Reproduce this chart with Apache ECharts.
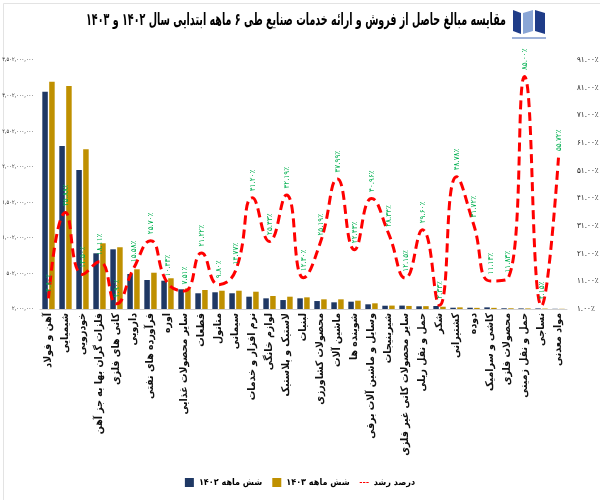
<!DOCTYPE html>
<html>
<head>
<meta charset="utf-8">
<script src="https://cdn.jsdelivr.net/npm/echarts@6/dist/echarts.min.js"></script>
<style>
html,body{margin:0;padding:0;background:#fff;}
#c{width:600px;height:500px;}
</style>
</head>
<body>
<div id="c"></div>
<script>
const categories = [
  'آهن و فولاد','شیمیایی','خودرویی','فلزات گران بها به جز آهن','کانی های فلزی','دارویی',
  'فرآورده های نفتی','اوره','سایر محصولات غذایی','قطعات','متانول','سیمانی',
  'نرم افزار و خدمات','لوازم خانگی','لاستیک و پلاستیک','لبنیات','محصولات کشاورزی','ماشین آلات',
  'شوینده ها','وسایل و ماشین آلات برقی','شیرینیجات','سایر محصولات کانی غیر فلزی','حمل و نقل ریلی','شکر',
  'کشتیرانی','دوده','کاشی و سرامیک','محصولات فلزی','حمل و نقل زمینی','نساجی','مواد معدنی'
];
const sales1402 = [
  3057e6,2294e6,1956e6,785e6,841e6,494e6,410e6,400e6,279e6,223e6,237e6,223e6,
  175e6,152e6,128e6,152e6,114e6,96e6,105e6,68e6,48e6,50e6,40e6,44e6,
  20e6,20e6,25e6,12e6,10e6,10e6,5e6
];
const sales1403 = [
  3198e6,3137e6,2247e6,926e6,870e6,560e6,512e6,434e6,293e6,269e6,259e6,259e6,
  245e6,185e6,175e6,166e6,138e6,138e6,119e6,82e6,50e6,45e6,42e6,34e6,
  25e6,18e6,18e6,12e6,10e6,8e6,5e6
];
const growth = [
  4.80,35.88,13.50,18.11,2.90,15.58,25.70,10.43,7.51,21.22,9.80,14.77,
  41.20,25.43,42.19,12.30,25.19,47.99,22.43,40.96,28.34,12.15,29.60,2.33,
  48.78,31.72,11.13,11.83,85.00,2.15,55.72
];
const seriesNames = ['شش ماهه ۱۴۰۲','شش ماهه ۱۴۰۳','درصد رشد'];
const titleText = 'مقایسه مبالغ حاصل از فروش و ارائه خدمات صنایع طی ۶ ماهه ابتدایی سال ۱۴۰۲ و ۱۴۰۳';

const fa = s => String(s).replace(/\d/g, d => '۰۱۲۳۴۵۶۷۸۹'[d]);
const FONT = 'DejaVu Sans';
const FONTC = 'DejaVu Sans Condensed';

const titleFont = 'bold 17px "' + FONTC + '"';
const mctx = document.createElement('canvas').getContext('2d');
mctx.font = titleFont;
const tw = mctx.measureText(titleText).width || 600;
const titleScale = Math.min(1, 420 / tw);

const dashIcon = 'path://M0,0H5V2H0Z M7,0H12V2H7Z M14,0H19V2H14Z';

const chart = echarts.init(document.getElementById('c'), null, {renderer:'canvas'});
chart.setOption({
  backgroundColor:'#ffffff',
  animation:false,
  textStyle:{fontFamily:FONT},
  graphic:[
    {type:'rect', left:1, top:1, shape:{width:597, height:497}, style:{fill:'none', stroke:'#e3e3e3', lineWidth:1}, silent:true},
    {type:'text', x:296, y:21, scaleX:titleScale, scaleY:1,
     style:{text:titleText, font:titleFont, fill:'#000', textAlign:'center', textVerticalAlign:'middle'}},
    {type:'polygon', shape:{points:[[513,10],[521,13],[521,34],[513,31]]}, style:{fill:'#1f3c88'}},
    {type:'polygon', shape:{points:[[523,13],[533,10],[533,31],[523,34]]}, style:{fill:'#8aa6d6'}},
    {type:'polygon', shape:{points:[[535,10],[545,13],[545,34],[535,31]]}, style:{fill:'#1f3c88'}},
    {type:'rect', shape:{x:512, y:37, width:34, height:2}, style:{fill:'#9fb3da'}}
  ],
  legend:{
    bottom:8, left:'center', itemWidth:9, itemHeight:9, itemGap:10,
    data:[
      {name:seriesNames[0], icon:'rect'},
      {name:seriesNames[1], icon:'rect'},
      {name:seriesNames[2], icon:dashIcon, itemStyle:{color:'#ff0000'}}
    ],
    textStyle:{fontFamily:FONTC, fontSize:9, fontWeight:'bold', color:'#000'}
  },
  grid:{left:40, right:33, top:60, bottom:191, containLabel:false, outerBoundsMode:'none'},
  xAxis:{
    type:'category', data:categories,
    axisTick:{show:false},
    axisLine:{lineStyle:{color:'#d0d0d0'}},
    axisLabel:{interval:0, rotate:90, fontSize:10.5, fontWeight:'bold', color:'#111', fontFamily:FONTC, margin:4}
  },
  yAxis:[
    {type:'value', min:2000000, max:3502000000, interval:500000000,
     splitLine:{show:false}, axisLine:{show:false}, axisTick:{show:false},
     axisLabel:{fontSize:5.6, color:'#222', margin:6, fontFamily:FONTC,
       formatter:v => fa(Math.round(v).toLocaleString('en-US'))}},
    {type:'value', min:1, max:91, interval:10, position:'right',
     splitLine:{show:false}, axisLine:{show:false}, axisTick:{show:false},
     axisLabel:{fontSize:8, color:'#222', margin:10, fontFamily:FONTC,
       formatter:v => fa(v.toFixed(2)) + '٪'}}
  ],
  series:[
    {name:seriesNames[0], type:'bar', data:sales1402, barWidth:5.5, barGap:'25%',
     itemStyle:{color:'#1f3864'}},
    {name:seriesNames[1], type:'bar', data:sales1403, barWidth:5.5,
     itemStyle:{color:'#bf9000'}},
    {name:seriesNames[2], type:'line', yAxisIndex:1, data:growth, smooth:0.5,
     symbol:'circle', symbolSize:1, showSymbol:true, z:5,
     lineStyle:{color:'#ff0000', width:3, type:[9,5]},
     itemStyle:{color:'rgba(255,0,0,0)'},
     labelLayout:{hideOverlap:false},
     label:{show:true, position:'top', rotate:90, align:'left', verticalAlign:'middle', distance:6,
       offset:[5,0],
       color:'#00b050', fontSize:8, fontFamily:FONTC,
       formatter:p => fa(p.value.toFixed(2)) + '٪'}}
  ]
});
</script>
</body>
</html>
